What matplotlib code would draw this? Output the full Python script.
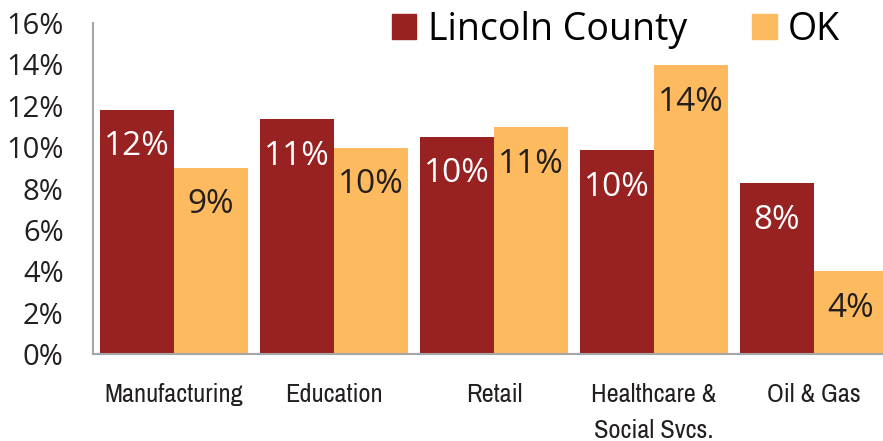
import matplotlib
matplotlib.use('Agg')
import matplotlib.pyplot as plt
from matplotlib import font_manager
from matplotlib.patches import Patch
import numpy as np

categories = ['Manufacturing', 'Education', 'Retail', 'Healthcare &\nSocial Svcs.', 'Oil & Gas']
lincoln = [11.8, 11.35, 10.5, 9.85, 8.25]
oklahoma = [9.0, 9.95, 10.95, 13.95, 4.0]
lincoln_labels = ['12%', '11%', '10%', '10%', '8%']
ok_labels = ['9%', '10%', '11%', '14%', '4%']
yticks = [0, 2, 4, 6, 8, 10, 12, 14, 16]

red = '#972221'
gold = '#FDBA5F'
text_col = '#231F20'

# look for a narrow face for the category labels #
narrow = 'Open Sans'
for f in font_manager.fontManager.ttflist:
    if 'Narrow' in f.name or 'Condensed' in f.name:
        narrow = f.name
        break

fig = plt.figure(figsize=(8.83, 4.41), dpi=100)
W, H = 883, 441
ax = fig.add_axes([93 / W, (H - 354) / H, (883 - 93) / W, (354 - 23) / H])

x = np.arange(len(categories))
w = 0.4625
b1 = ax.bar(x - w / 2, lincoln, w, color=red, label='Lincoln County')
b2 = ax.bar(x + w / 2, oklahoma, w, color=gold, label='OK')

# value labels inside the bars #
for rect, lab in zip(b1, lincoln_labels):
    ax.annotate(lab, (rect.get_x() + rect.get_width() / 2, rect.get_height()),
                xytext=(0, -26.5), textcoords='offset points', ha='center', va='center',
                color='white', fontsize=24, family='Open Sans')
for rect, lab in zip(b2, ok_labels):
    ax.annotate(lab, (rect.get_x() + rect.get_width() / 2, rect.get_height()),
                xytext=(0, -26.5), textcoords='offset points', ha='center', va='center',
                color=text_col, fontsize=24, family='Open Sans')

ax.set_xlim(-0.506, 4.431)
ax.set_ylim(0, 16)
ax.set_yticks(yticks)
ax.set_yticklabels([f'{t}%' for t in yticks], fontsize=21, family='Open Sans', color=text_col)
ax.set_xticks(x)
ax.set_xticklabels(categories, fontsize=19, family=[narrow, 'DejaVu Sans'], color=text_col,
                   va='top', linespacing=1.65)
ax.tick_params(axis='y', length=0, pad=21)
ax.tick_params(axis='x', length=0, pad=21)

for s in ['top', 'right']:
    ax.spines[s].set_visible(False)
for s in ['left', 'bottom']:
    ax.spines[s].set_color('#A6A6A6')
    ax.spines[s].set_linewidth(1.5)

handles = [Patch(color=red, label='Lincoln County'), Patch(color=gold, label='OK')]
fig.legend(handles=handles, loc='center left', bbox_to_anchor=(392 / W, 1 - 30 / H),
           ncol=2, frameon=False, prop={'family': 'Open Sans', 'size': 27},
           handlelength=0.65, handleheight=0.65, handletextpad=0.3, columnspacing=1.75,
           borderaxespad=0, borderpad=0)

plt.savefig('out.png', dpi=100)
